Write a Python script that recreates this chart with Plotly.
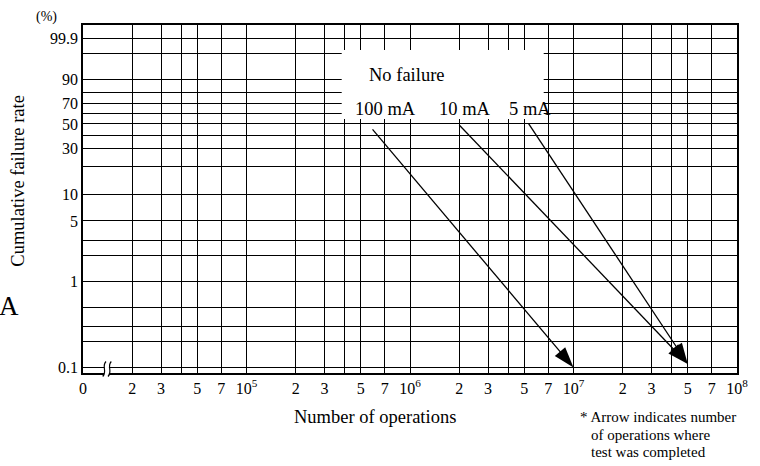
import math
import plotly.graph_objects as go

# ---------------- data ----------------
x_decade_exp = [4, 5, 6, 7, 8]                 # axis spans 10^4 .. 10^8 (10^4 drawn as "0" after the break)
x_label_mult = [2, 3, 5, 7]                    # labelled grid lines inside each decade
x_label_text = ["2", "3", "5", "7"]
x_unlabelled_mult = [4]                        # grid line without label

y_label_pct = [0.1, 1, 5, 10, 30, 50, 70, 90, 99.9]
y_label_text = ["0.1", "1", "5", "10", "30", "50", "70", "90", "99.9"]
y_unlabelled_pct = [0.2, 0.3, 0.5, 2, 3, 20, 40, 60, 80, 99]

currents = ["100 mA", "10 mA", "5 mA"]
arrow_start_ops = [5.9e5, 2.0e6, 5.3e6]
arrow_start_pct = [45, 49, 50.5]
completed_ops = [1.0e7, 5.0e7, 5.0e7]
completed_pct = [0.1, 0.11, 0.11]

note_lines = ["* Arrow indicates number", "of operations where", "test was completed"]

FONT = "Liberation Serif, Times New Roman, serif"


def weib(p):
    """Weibull probability-paper transform of a cumulative percentage."""
    f = p / 100.0
    return math.log(-math.log(1.0 - f))


# ---------------- axes ticks ----------------
x_tickvals, x_ticktext, x_minorvals = [], [], []
for e in x_decade_exp:
    x_tickvals.append(10 ** e)
    x_ticktext.append("0" if e == x_decade_exp[0] else "10<sup>%d</sup>" % e)
    if e != x_decade_exp[-1]:
        for m, lab in zip(x_label_mult, x_label_text):
            x_tickvals.append(m * 10 ** e)
            x_ticktext.append(lab)
        for m in x_unlabelled_mult:
            x_minorvals.append(m * 10 ** e)

y_tickvals = [weib(p) for p in y_label_pct]
y_minorvals = [weib(p) for p in y_unlabelled_pct]

fig = go.Figure()

for name, xs, ps, xe, pe in zip(currents, arrow_start_ops, arrow_start_pct, completed_ops, completed_pct):
    fig.add_trace(go.Scatter(
        x=[xs, xe], y=[weib(ps), weib(pe)],
        mode="lines+markers",
        line=dict(color="black", width=1.3),
        marker=dict(symbol="arrow", size=[0, 22], angleref="previous",
                    color="black", opacity=1, line=dict(width=0)),
        showlegend=False, hoverinfo="skip", name=name,
    ))

# ---------------- layout geometry helpers (decoration only) ----------------
L, R, T, B = 83.3, 737.3, 25.0, 373.0


def px(xp):
    return (xp - L) / (R - L)


def py(yp):
    return (B - yp) / (B - T)


shapes = [
    # white label box covering the grid
    dict(type="rect", xref="paper", yref="paper", x0=px(342), x1=px(544), y0=py(119), y1=py(50),
         fillcolor="white", line=dict(width=0), layer="above"),
    # axis break gap
    dict(type="rect", xref="paper", yref="paper", x0=px(104.5), x1=px(109.2), y0=py(375), y1=py(362.5),
         fillcolor="white", line=dict(width=0), layer="above"),
]
for dx in (0.0, 5.3):
    pth = "M %f,%f C %f,%f %f,%f %f,%f" % (
        px(106.3 + dx), py(361.5),
        px(101.5 + dx), py(366.5),
        px(108.0 + dx), py(371.0),
        px(103.0 + dx), py(376.5))
    shapes.append(dict(type="path", xref="paper", yref="paper", path=pth,
                       line=dict(color="black", width=1.2), layer="above"))

annotations = [
    dict(text="No failure", x=px(407), y=py(75)),
    dict(text=currents[0], x=px(386), y=py(109)),
    dict(text=currents[1], x=px(465.5), y=py(109)),
    dict(text=currents[2], x=px(530), y=py(109)),
    dict(text="(%)", x=px(47), y=py(17), size=14),
    dict(text="Cumulative failure rate", x=px(18), y=py(181), size=18.5, textangle=-90),
    dict(text="A", x=px(9.5), y=py(306), size=27),
    dict(text="Number of operations", x=px(375), y=py(417), size=18.5),
    dict(text=note_lines[0], x=px(578), y=py(417), size=15, xanchor="left"),
    dict(text=note_lines[1], x=px(589), y=py(434.5), size=15, xanchor="left"),
    dict(text=note_lines[2], x=px(589), y=py(452), size=15, xanchor="left"),
]
ann_objs = []
for a in annotations:
    ann_objs.append(dict(
        text=a["text"], x=a["x"], y=a["y"], xref="paper", yref="paper",
        showarrow=False, xanchor=a.get("xanchor", "center"), yanchor="middle",
        textangle=a.get("textangle", 0),
        font=dict(family=FONT, size=a.get("size", 18.5), color="black"),
    ))

grid_kw = dict(showgrid=True, gridcolor="black", gridwidth=1.3, zeroline=False,
               showline=True, linecolor="black", linewidth=1.5, mirror=True, ticks="")

fig.update_layout(
    width=760, height=466,
    margin=dict(l=L, r=760 - R, t=T, b=466 - B, pad=0, autoexpand=False),
    paper_bgcolor="white", plot_bgcolor="white",
    font=dict(family=FONT, size=16, color="black"),
    shapes=shapes, annotations=ann_objs,
    xaxis=dict(type="log", range=[4, 8], tickmode="array", tickvals=x_tickvals, ticktext=x_ticktext,
               minor=dict(tickmode="array", tickvals=x_minorvals, showgrid=True,
                          gridcolor="black", gridwidth=1.3, ticks=""),
               ticklabelstandoff=0, tickfont=dict(family=FONT, size=16, color="black"), **grid_kw),
    yaxis=dict(range=[-7.053, 2.289], tickmode="array", tickvals=y_tickvals, ticktext=y_label_text,
               minor=dict(tickmode="array", tickvals=y_minorvals, showgrid=True,
                          gridcolor="black", gridwidth=1.3, ticks=""),
               ticklabelstandoff=0, tickfont=dict(family=FONT, size=16, color="black"), **grid_kw),
)

fig.write_html("out.html", config={"displayModeBar": False},
               post_script="document.body.style.margin='0px';")
